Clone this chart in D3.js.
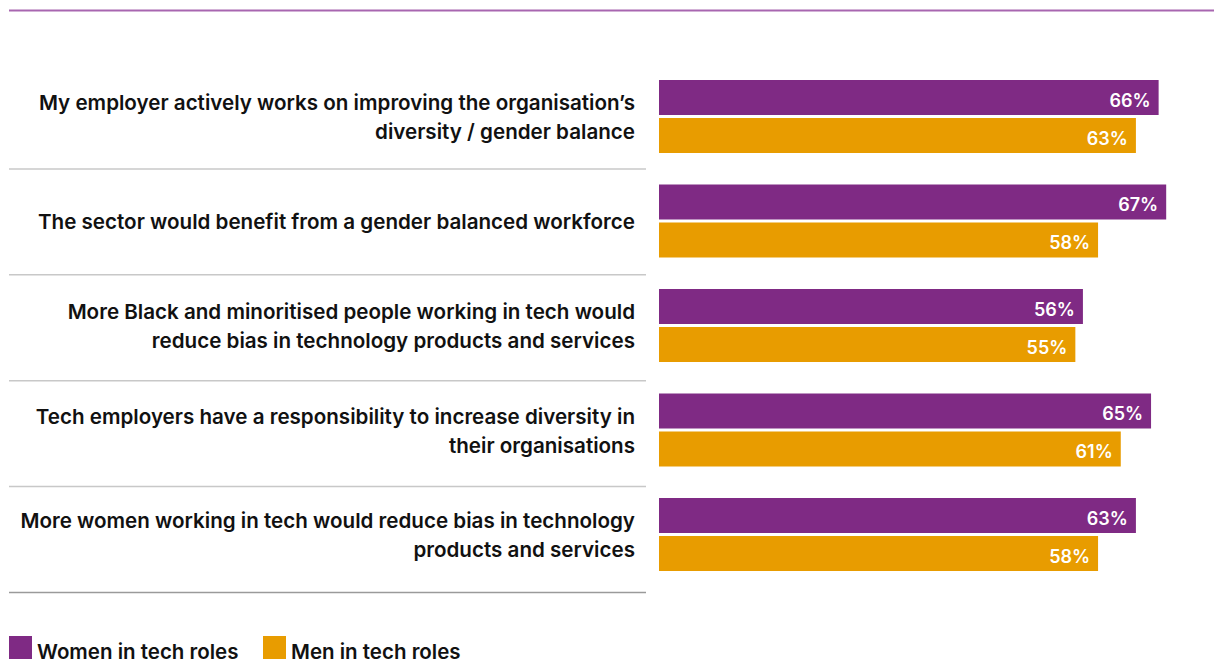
<!DOCTYPE html>
<html>
<head>
<meta charset="utf-8" />
<style>
body { margin: 0; background: #fff; }
text { font-family: Inter, "Noto Sans", sans-serif; }
</style>
</head>
<body>
<script src="https://cdn.jsdelivr.net/npm/d3@7"></script>
<script>
// statements, split the way the reference wraps them
var statements = [
    ["My employer actively works on improving the organisation\u2019s", "diversity / gender balance"],
    ["The sector would benefit from a gender balanced workforce"],
    ["More Black and minoritised people working in tech would", "reduce bias in technology products and services"],
    ["Tech employers have a responsibility to increase diversity in", "their organisations"],
    ["More women working in tech would reduce bias in technology", "products and services"]
];
var women = [66, 67, 56, 65, 63];
var men = [63, 58, 55, 61, 58];
var seriesNames = ["Women in tech roles", "Men in tech roles"];
var colors = ["#7f2a84", "#e89c00"];

var width = 1214, height = 659;

var svg = d3.select("body").append("svg")
    .attr("width", width)
    .attr("height", height);

var idx = d3.range(statements.length);

// bar groups
var y = d3.scaleBand().domain(idx).range([80, 80 + 5 * 104.5]);
// row separators
var ySep = d3.scaleBand().domain(idx).range([63, 592.5]);
var x = d3.scaleLinear().domain([0, 100]).range([659, 659 + 757]);

var barH = 35, gap = 3;

// top rule
svg.append("line")
    .attr("x1", 9).attr("x2", width)
    .attr("y1", 10.5).attr("y2", 10.5)
    .attr("stroke", "#a866b0")
    .attr("stroke-width", 2);

// separators
svg.selectAll(".sep")
    .data(idx)
  .enter().append("line")
    .attr("class", "sep")
    .attr("x1", 9).attr("x2", 646)
    .attr("y1", function(d) { return ySep(d) + ySep.bandwidth(); })
    .attr("y2", function(d) { return ySep(d) + ySep.bandwidth(); })
    .attr("stroke", function(d) { return d === idx.length - 1 ? "#9a9a9a" : "#c8c8c8"; })
    .attr("stroke-width", 1.5);

// labels
var label = svg.selectAll(".label")
    .data(idx)
  .enter().append("text")
    .attr("class", "label")
    .attr("text-anchor", "end")
    .style("font-size", "20.6px")
    .style("font-weight", 600)
    .attr("fill", "#111");

label.each(function(d) {
    var lines = statements[d];
    var cy = y(d) + barH + gap / 2 + 1.5;
    var lh = 29;
    var t = d3.select(this);
    lines.forEach(function(line, i) {
        t.append("tspan")
            .attr("x", 635)
            .attr("y", cy + (i - (lines.length - 1) / 2) * lh + 6.5)
            .text(line);
    });
});

// bars
var series = [women, men];
series.forEach(function(vals, s) {
    svg.selectAll(".bar" + s)
        .data(idx)
      .enter().append("rect")
        .attr("class", "bar" + s)
        .attr("x", x(0))
        .attr("y", function(d) { return y(d) + s * (barH + gap); })
        .attr("width", function(d) { return x(vals[d]) - x(0); })
        .attr("height", barH)
        .attr("fill", colors[s]);

    svg.selectAll(".val" + s)
        .data(idx)
      .enter().append("text")
        .attr("class", "val" + s)
        .attr("x", function(d) { return x(vals[d]) - 8; })
        .attr("y", function(d) { return y(d) + s * (barH + gap) + 26.5; })
        .attr("text-anchor", "end")
        .attr("fill", "#fff")
        .style("font-size", "18px")
        .style("font-weight", 600)
        .text(function(d) { return vals[d] + "%"; });
});

// legend
var legend = svg.selectAll(".legend")
    .data(seriesNames)
  .enter().append("g")
    .attr("class", "legend")
    .attr("transform", function(d, i) { return "translate(" + (9 + i * 254) + ",636)"; });

legend.append("rect")
    .attr("width", 23).attr("height", 23)
    .attr("fill", function(d, i) { return colors[i]; });

legend.append("text")
    .attr("x", 28)
    .attr("y", 23)
    .attr("fill", "#111")
    .style("font-size", "20.5px")
    .style("font-weight", 600)
    .text(function(d) { return d; });
</script>
</body>
</html>
